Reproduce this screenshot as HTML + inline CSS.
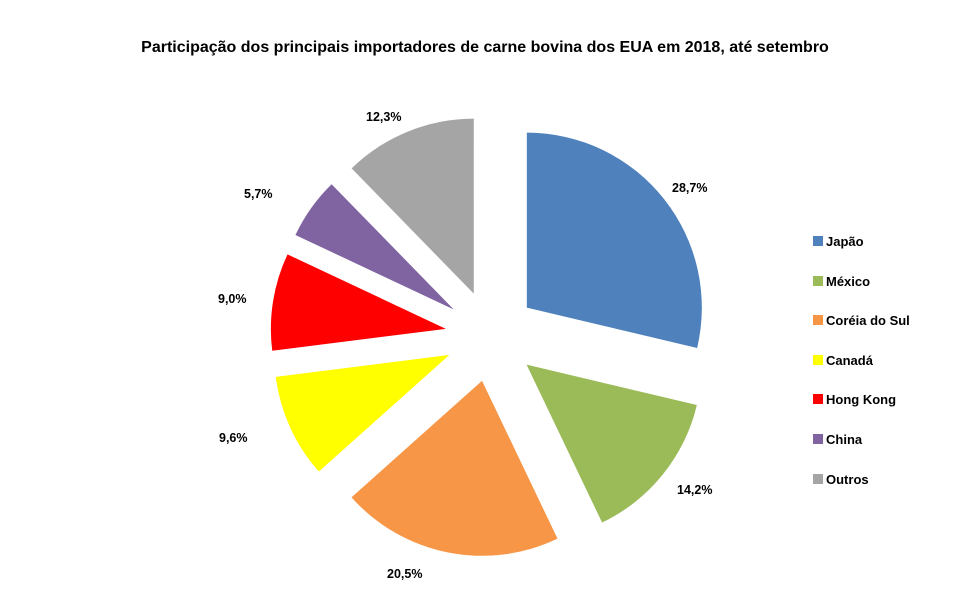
<!DOCTYPE html>
<html><head><meta charset="utf-8"><style>
body{margin:0;background:#fff;}
svg text{font-family:"Liberation Sans",sans-serif;font-weight:bold;fill:#000;}
</style></head><body>
<svg id="s" width="961" height="594" xmlns="http://www.w3.org/2000/svg">
<rect width="961" height="594" fill="#fff"/>
<text x="485" y="52" font-size="16" text-anchor="middle">Participação dos principais importadores de carne bovina dos EUA em 2018, até setembro</text>
<g id="pie"></g>
<g font-size="12.5">
<text x="672" y="192">28,7%</text>
<text x="677" y="494">14,2%</text>
<text x="387" y="578">20,5%</text>
<text x="219" y="442">9,6%</text>
<text x="218" y="303">9,0%</text>
<text x="244" y="198">5,7%</text>
<text x="366" y="121">12,3%</text>
</g>
<g font-size="13">
<rect x="813" y="236" width="10" height="10" fill="#4F81BD"/><text x="826" y="246">Japão</text>
<rect x="813" y="276" width="10" height="10" fill="#9BBB59"/><text x="826" y="286">México</text>
<rect x="813" y="315" width="10" height="10" fill="#F79646"/><text x="826" y="325">Coréia do Sul</text>
<rect x="813" y="355" width="10" height="10" fill="#FFFF00"/><text x="826" y="365">Canadá</text>
<rect x="813" y="394" width="10" height="10" fill="#FF0000"/><text x="826" y="404">Hong Kong</text>
<rect x="813" y="434" width="10" height="10" fill="#8064A2"/><text x="826" y="444">China</text>
<rect x="813" y="474" width="10" height="10" fill="#A5A5A5"/><text x="826" y="484">Outros</text>
</g>
</svg>
<script>
var d=[[28.7,"#4F81BD"],[14.2,"#9BBB59"],[20.5,"#F79646"],[9.6,"#FFFF00"],[9.0,"#FF0000"],[5.7,"#8064A2"],[12.3,"#A5A5A5"]];
var cx=491,cy=336,r=175,off=45.7,a=0,h="";
d.forEach(function(s){var b=a+s[0]*3.6,m=(a+b)/2*Math.PI/180;
var ox=cx+off*Math.sin(m),oy=cy-off*Math.cos(m);
var a1=a*Math.PI/180,a2=b*Math.PI/180;
var x1=ox+r*Math.sin(a1),y1=oy-r*Math.cos(a1),x2=ox+r*Math.sin(a2),y2=oy-r*Math.cos(a2);
h+='<path d="M'+ox+','+oy+'L'+x1+','+y1+'A'+r+','+r+' 0 '+((b-a)>180?1:0)+' 1 '+x2+','+y2+'Z" fill="'+s[1]+'"/>';
a=b;});
document.getElementById("pie").innerHTML=h;
</script>
</body></html>
